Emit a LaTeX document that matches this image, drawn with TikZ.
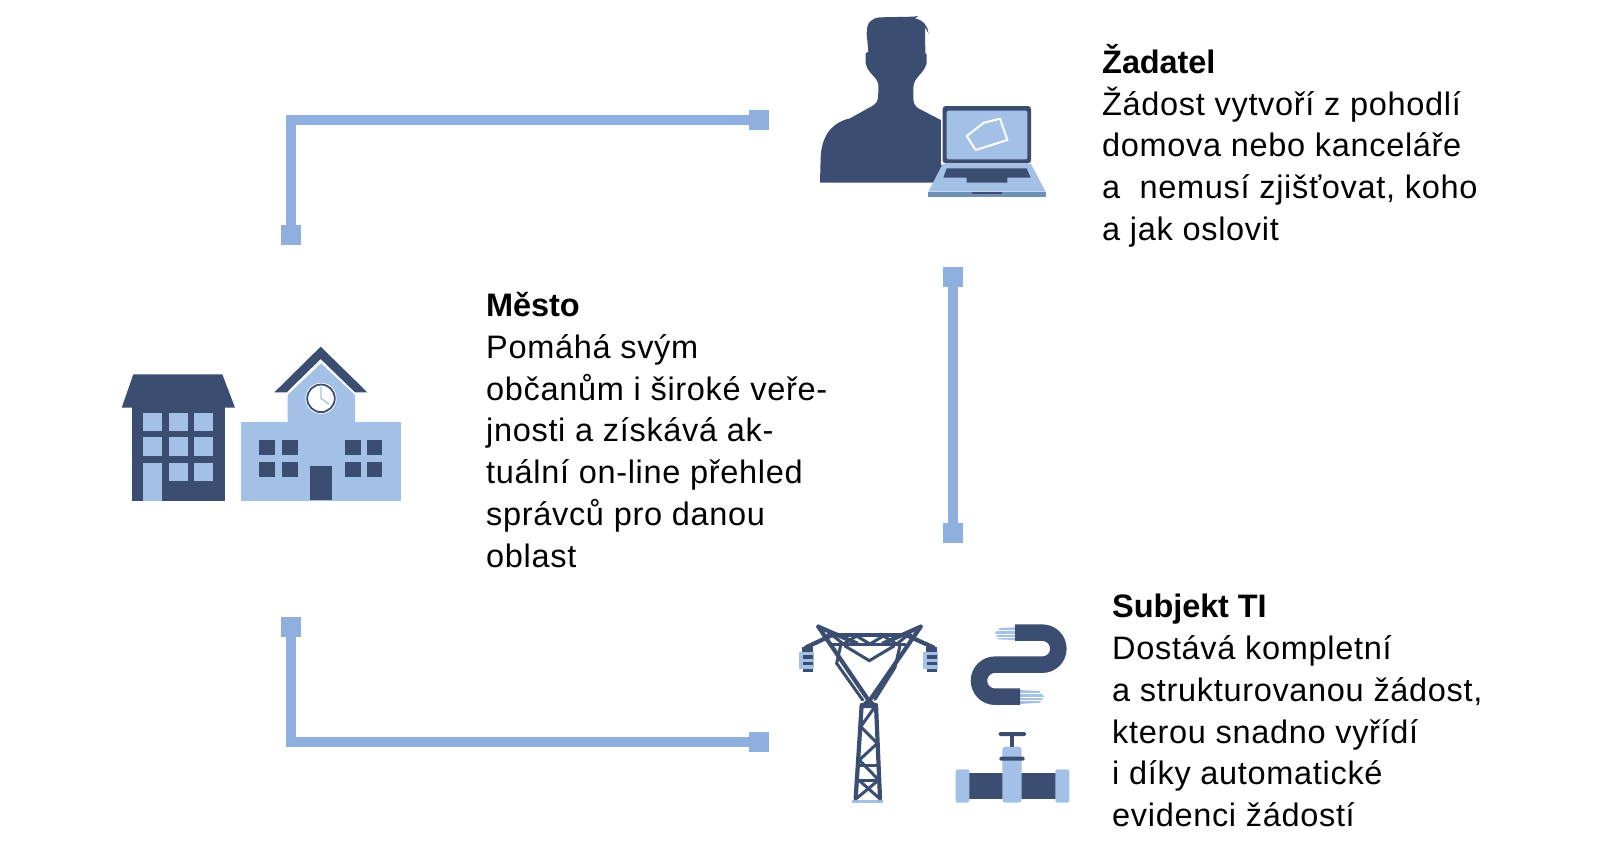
\documentclass[tikz,border=0pt]{standalone}
\usepackage{fontspec}
\setmainfont[LetterSpace=2.1,BoldFeatures={LetterSpace=-0.3}]{Liberation Sans}
\definecolor{dk}{HTML}{3B4D71}
\definecolor{lt}{HTML}{A3C1E6}
\definecolor{cn}{HTML}{8FB0DE}
\definecolor{st}{HTML}{6F90B5}
\tikzset{
 sq/.style={fill=cn,minimum size=20pt,inner sep=0pt,outer sep=0pt},
 link/.style={draw=cn,line width=9.5pt},
 txt/.style={anchor=north west,align=left,inner sep=0pt,font=\fontsize{32.5}{41.8}\selectfont},
 tw/.style={draw=dk,line width=4.2pt,line cap=round},
 twn/.style={draw=dk,line width=3pt,line cap=round},
}
\begin{document}
\begin{tikzpicture}[x=1pt,y=-1pt]
\useasboundingbox (0,0) rectangle (1600,860);
% connectors
\node[sq] (a1) at (759,120) {};
\node[sq] (a2) at (291,235) {};
\node[sq] (b1) at (953,277) {};
\node[sq] (b2) at (953,533) {};
\node[sq] (c1) at (291,627) {};
\node[sq] (c2) at (759,742) {};
\draw[link] (a1.center) -| (a2.center);
\draw[link] (b1.center) -- (b2.center);
\draw[link] (c1.center) |- (c2.center);
% texts
\node[txt] (t1) at (1102,44) {\textbf{Žadatel}\\Žádost vytvoří z pohodlí\\domova nebo kanceláře\\a\ \ nemusí zjišťovat, koho\\a jak oslovit};
\node[txt] (t2) at (486,292) {\textbf{Město}\\Pomáhá svým\\občanům i široké veře-\\jnosti a získává ak-\\tuální on-line přehled\\správců pro danou\\oblast};
\node[txt] (t3) at (1112,594) {\textbf{Subjekt TI}\\Dostává kompletní\\a strukturovanou žádost,\\kterou snadno vyřídí\\i díky automatické\\evidenci žádostí};
% person + laptop
\begin{scope}[shift={(800,0)},x=1pt/3,y=-1pt/3]
\fill[dk] (60,548) -- (62,470) .. controls (65,420) and (85,370) .. (150,355) -- (222,315) .. controls (235,305) and (235,295) .. (235,255) .. controls (230,225) and (205,225) .. (197,190) -- (197,160) -- (205,155) -- (200,100) .. controls (200,65) and (215,55) .. (240,52) -- (340,50) -- (355,48) -- (345,55) .. controls (370,60) and (385,80) .. (386,102) .. controls (380,90) and (378,85) .. (375,82) -- (376,160) -- (380,162) -- (380,190) .. controls (370,225) and (340,230) .. (340,265) -- (340,295) .. controls (340,310) and (345,318) .. (355,325) -- (432,365) -- (432,548) -- cycle;
\fill[white] (424,314) rectangle (697,494);
\fill[dk,rounded corners=3pt] (428,318) rectangle (693,490);
\fill[lt,rounded corners=2pt] (440,332) rectangle (682,478);
\draw[white,line width=2pt,line join=round] (500,408) -- (552,368) -- (600,356) -- (622,420) -- (527,450) -- cycle;
\fill[lt] (428,492) -- (693,492) -- (737,575) -- (385,575) -- cycle;
\fill[st] (385,575) rectangle (737,590);
\fill[dk] (515,575) rectangle (605,583);
\fill[dk] (440,505) -- (680,505) -- (692,533) -- (622,533) -- (622,548) -- (500,548) -- (500,533) -- (430,533) -- cycle;
\end{scope}
% buildings
\begin{scope}[shift={(110,335)},x=1pt/3,y=-1pt/3]
\fill[dk] (67,215) rectangle (345,497);
\fill[dk] (70,118) -- (337,118) -- (375,218) -- (35,218) -- cycle;
\foreach \x/\y in {100/233,177/233,253/233,100/307,177/307,253/307,177/383,253/383}
  \fill[lt] (\x,\y) rectangle (\x+57,\y+56);
\fill[lt] (98,383) rectangle (157,497);
\fill[lt] (392,260) rectangle (873,497);
\fill[lt] (533,262) -- (533,180) -- (633,85) -- (735,180) -- (735,262) -- cycle;
\fill[dk] (632,35) -- (772,172) -- (735,172) -- (632,72) -- (530,172) -- (493,172) -- cycle;
\fill[white] (633,190) circle (15.5pt);
\draw[dk,line width=1.8pt] (633,190) circle (13.8pt);
\draw[lt,line width=1.3pt] (633,155) -- (633,190) -- (657,208);
\foreach \x/\y in {448/315,516/315,448/380,516/380,705/315,770/315,705/380,770/380}
  \fill[dk] (\x,\y) rectangle (\x+47,\y+46);
\fill[dk] (600,392) rectangle (666,495);
\end{scope}
% tower
\begin{scope}[shift={(790,610)},x=1pt/3,y=-1pt/3]
\fill[lt] (185,570) rectangle (280,580);
\foreach \dx in {0,372}{
 \fill[lt] (28+\dx,125) rectangle (73+\dx,178);
 \fill[dk] (38+\dx,135) rectangle (70+\dx,146);
 \fill[dk] (38+\dx,155) rectangle (70+\dx,166);
 \fill[dk] (36+\dx,110) rectangle (70+\dx,126);
 \fill[dk] (38+\dx,176) rectangle (70+\dx,185);
}
\draw[tw] (85,50) -- (235,270);
\draw[tw] (392,50) -- (240,270);
\draw[tw] (85,50) -- (200,100);
\draw[tw] (392,50) -- (280,100);
\draw[tw] (115,76) -- (360,76);
\draw[tw] (48,112) -- (125,76);
\draw[tw] (430,112) -- (350,76);
\draw[twn] (120,104) -- (345,104);
\draw[twn] (130,78) -- (160,102) -- (200,78) -- (240,102) -- (280,78) -- (320,102) -- (350,78);
\draw[twn] (165,108) -- (238,152) -- (312,108);
\draw[twn] (152,106) -- (140,160) -- (218,270);
\draw[twn] (330,106) -- (315,172) -- (255,268);
\draw[tw] (215,285) -- (197,565);
\draw[tw] (258,285) -- (270,565);
\fill[dk] (213,285) -- (236,262) -- (260,285) -- cycle;
\draw[twn] (218,290) -- (255,290) -- (212,350) -- (262,400) -- (208,450) -- (266,510) -- (200,565);
\draw[twn] (206,510) -- (268,565);
\draw[twn] (206,465) -- (264,465);
\draw[twn] (204,510) -- (266,510);
\end{scope}
% cable and valve
\begin{scope}[shift={(950,610)},x=1pt/3,y=-1pt/3]
\fill[lt] (195,52) -- (150,54) -- (135,68) -- (145,88) -- (195,90) -- cycle;
\draw[white,line width=.6pt] (135,61) -- (195,61) (135,72) -- (195,72) (135,82) -- (195,82);
\fill[lt] (210,240) -- (268,243) -- (283,260) -- (270,278) -- (210,282) -- cycle;
\draw[white,line width=.6pt] (210,250) -- (285,250) (210,261) -- (285,261) (210,271) -- (285,271);
\draw[dk,line width=16.5pt] (195,68) -- (277,68) arc[start angle=90,end angle=-90,x radius=48,y radius=-48] -- (135,164) arc[start angle=90,end angle=270,x radius=48,y radius=-48] -- (210,260);
\fill[dk] (50,488) rectangle (320,568);
\fill[lt,rounded corners=2pt] (17,478) rectangle (58,578);
\fill[lt,rounded corners=2pt] (316,478) rectangle (358,578);
\fill[lt,rounded corners=3pt] (157,410) rectangle (215,578);
\fill[dk,rounded corners=1.5pt] (148,440) rectangle (224,452);
\fill[dk] (180,375) rectangle (192,410);
\fill[dk,rounded corners=1.5pt] (146,366) rectangle (228,378);
\end{scope}
\end{tikzpicture}
\end{document}
